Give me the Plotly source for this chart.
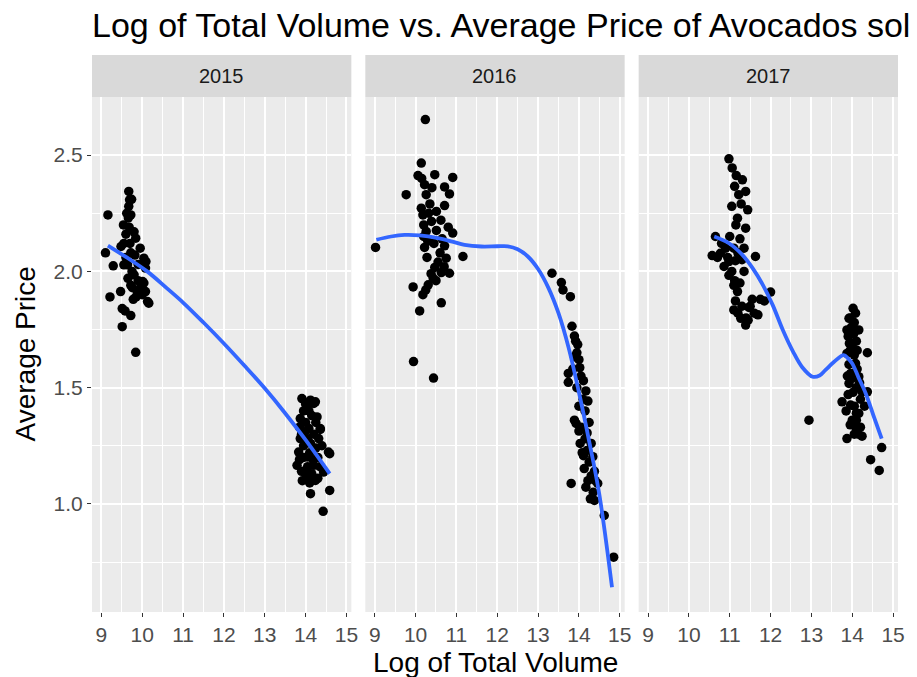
import plotly.graph_objects as go

years = ["2015", "2016", "2017"]

# ---- 2015 ----
vol_2015 = [9.16, 9.67, 9.69, 9.67, 9.72, 9.54, 9.8, 9.84, 9.55, 9.48, 9.1, 9.72, 10.04, 10.09, 9.29,
            9.55, 9.64, 9.8, 10.08, 9.72, 10.01, 10.04, 9.88, 10.08, 9.93, 9.47, 9.21, 9.85, 10.16, 10.13,
            9.51, 9.72, 9.51, 9.84, 9.6, 9.62, 9.75, 9.9, 9.95, 9.7, 9.78, 9.65, 9.6, 9.9, 10.0, 9.58,
            9.68, 9.74, 9.66, 9.98, 9.82, 9.76,
            13.91, 14.12, 14.24, 14.2, 14.04, 14.28, 13.87, 14.36, 14.36, 14.08, 13.87, 14.32, 14.12, 14.59,
            14.56, 13.83, 14.04, 13.79, 14.2, 14.44, 14.0, 14.24, 14.12, 14.59, 14.43, 13.95, 14.0, 14.15,
            13.9, 13.95, 14.1, 14.25, 14.3, 13.85, 14.05, 14.15, 14.35, 13.9, 14.3, 14.1, 13.95, 14.2,
            14.05, 13.85, 14.25, 14.0, 14.1, 14.18, 13.92, 14.4, 14.08, 13.98]
price_2015 = [2.243, 2.344, 2.308, 2.28, 2.243, 2.2, 2.17, 2.143, 2.12, 2.107, 2.08, 2.08, 2.057, 2.042, 2.024,
              2.028, 2.028, 1.985, 2.014, 1.94, 1.956, 1.95, 1.913, 1.913, 1.92, 1.913, 1.89, 1.89, 1.863, 1.87,
              1.84, 1.81, 1.762, 1.652, 2.16, 2.25, 2.0, 1.96, 2.1, 2.12, 1.88, 1.97, 2.06, 2.03, 1.9, 1.83,
              2.19, 2.31, 2.23, 1.94, 2.07, 1.93,
              1.453, 1.446, 1.439, 1.432, 1.41, 1.374, 1.367, 1.324, 1.32, 1.324, 1.281, 1.281, 1.26, 1.216,
              1.223, 1.223, 1.202, 1.166, 1.166, 1.137, 1.13, 1.101, 1.044, 1.058, 0.968, 1.40, 1.35, 1.38,
              1.30, 1.25, 1.22, 1.24, 1.20, 1.19, 1.16, 1.13, 1.16, 1.14, 1.11, 1.09, 1.20, 1.30,
              1.28, 1.33, 1.35, 1.43, 1.11, 1.19, 1.10, 1.25, 1.40, 1.31]
smooth_x_2015 = [9.16, 9.6, 10.12, 10.6, 11.0, 11.5, 12.0, 12.5, 13.0, 13.5, 14.0, 14.59]
smooth_y_2015 = [2.111, 2.062, 2.0, 1.928, 1.866, 1.78, 1.69, 1.595, 1.497, 1.39, 1.275, 1.13]

# ---- 2016 ----
vol_2016 = [9.02, 10.24, 10.14, 10.06, 10.47, 10.91, 9.77, 10.22, 10.71, 10.83, 10.26, 10.14, 10.71, 10.51,
            10.18, 10.39, 10.51, 10.91, 10.26, 10.22, 10.71, 11.16, 10.75, 10.47, 10.83, 10.63, 10.43, 9.94,
            10.31, 10.18, 10.63, 10.1, 9.95, 10.44, 10.3, 10.35, 10.2, 10.6, 10.55, 10.4, 10.28, 10.65,
            10.45, 10.8, 10.62, 10.38, 10.25, 10.5, 10.32, 10.2, 10.7, 10.15,
            13.34, 13.57, 13.61, 13.79, 13.83, 13.89, 13.97, 13.89, 14.02, 13.74, 13.74, 14.11, 14.17, 14.22,
            13.89, 13.93, 14.0, 14.2, 14.03, 14.3, 14.11, 14.34, 14.13, 14.38, 13.81, 14.17, 14.46, 14.28,
            14.38, 14.62, 14.85, 13.95, 14.05, 13.85, 14.1, 14.0, 14.25, 14.15, 14.2, 14.25, 14.3, 14.35,
            14.05, 13.95, 14.15, 14.0, 14.08, 13.92, 14.4, 14.22]
price_2016 = [2.103, 2.653, 2.466, 2.412, 2.416, 2.404, 2.33, 2.373, 2.363, 2.333, 2.33, 2.272, 2.283, 2.258,
              2.243, 2.215, 2.176, 2.165, 2.172, 2.103, 2.11, 2.064, 2.057, 2.017, 1.992, 1.995, 1.971, 1.933,
              1.942, 1.9, 1.865, 1.83, 1.612, 1.541, 2.13, 2.29, 2.2, 2.08, 2.04, 2.36, 2.06, 2.14,
              2.12, 2.19, 2.22, 1.99, 1.92, 1.96, 2.25, 2.15, 2.02, 2.4,
              1.992, 1.952, 1.92, 1.891, 1.764, 1.722, 1.685, 1.633, 1.586, 1.561, 1.523, 1.53, 1.486, 1.442,
              1.36, 1.346, 1.313, 1.305, 1.26, 1.26, 1.207, 1.203, 1.152, 1.14, 1.088, 1.072, 1.088, 1.022,
              1.015, 0.95, 0.771, 1.65, 1.55, 1.58, 1.45, 1.42, 1.35, 1.28, 1.23, 1.18, 1.12, 1.05,
              1.33, 1.50, 1.40, 1.62, 1.22, 1.70, 1.10, 1.10]
smooth_x_2016 = [9.04, 9.4, 9.73, 10.1, 10.55, 10.9, 11.2, 11.61, 12.0, 12.26, 12.5, 12.75, 13.0, 13.25,
                 13.5, 13.75, 14.0, 14.25, 14.5, 14.81]
smooth_y_2016 = [2.136, 2.15, 2.157, 2.155, 2.143, 2.128, 2.114, 2.107, 2.108, 2.108, 2.095, 2.064, 2.01, 1.93,
                 1.82, 1.67, 1.48, 1.27, 1.04, 0.641]

# ---- 2017 ----
vol_2017 = [10.98, 11.06, 11.16, 11.31, 11.12, 11.39, 11.44, 11.19, 11.39, 11.25, 10.65, 10.57, 10.77, 10.98,
            11.14, 11.63, 10.86, 10.98, 11.19, 12.0, 11.14, 11.85, 11.1, 11.47, 11.69, 11.27, 11.39, 11.22,
            11.28, 11.1, 10.9, 11.2, 11.0, 11.35, 11.25, 11.5, 11.6, 11.2, 11.3, 11.55, 11.05, 10.7, 10.8,
            11.1, 11.75, 11.4, 11.3, 11.15, 11.05, 11.12, 10.95, 11.35, 11.45,
            12.94, 14.02, 14.08, 13.92, 14.16, 13.87, 14.0, 14.37, 13.87, 14.08, 13.96, 14.16, 13.92, 14.24,
            14.37, 13.75, 13.96, 14.16, 14.0, 14.08, 14.24, 13.87, 14.72, 14.45, 14.66, 13.95, 14.05, 13.9,
            14.1, 13.95, 14.05, 13.92, 14.12, 14.0, 14.1, 13.9, 14.2, 14.05, 14.1, 13.85, 14.2, 13.95, 14.05,
            14.15, 13.98, 14.12, 14.02, 13.88, 14.18, 13.93, 14.03, 14.1, 14.3]
price_2017 = [2.484, 2.445, 2.412, 2.394, 2.366, 2.344, 2.265, 2.229, 2.186, 2.14, 2.15, 2.068, 2.078, 2.042,
              2.046, 2.064, 2.021, 1.983, 1.913, 1.911, 1.873, 1.873, 1.834, 1.845, 1.813, 1.798, 1.769, 2.33,
              2.29, 2.1, 2.1, 2.08, 2.15, 2.0, 1.95, 1.85, 1.82, 1.82, 1.85, 1.88, 2.0, 2.06, 2.12,
              1.94, 1.88, 1.80, 2.05, 2.2, 2.28, 1.96, 2.06, 2.1, 1.79,
              1.36, 1.841, 1.82, 1.798, 1.748, 1.748, 1.69, 1.65, 1.647, 1.604, 1.561, 1.547, 1.518, 1.482,
              1.482, 1.439, 1.425, 1.389, 1.36, 1.331, 1.291, 1.281, 1.242, 1.19, 1.144, 1.80, 1.78, 1.72,
              1.70, 1.66, 1.64, 1.60, 1.58, 1.54, 1.50, 1.47, 1.45, 1.42, 1.36, 1.40, 1.33, 1.34, 1.30,
              1.30, 1.76, 1.66, 1.48, 1.55, 1.52, 1.69, 1.73, 1.39, 1.42]
smooth_x_2017 = [10.62, 10.98, 11.31, 11.56, 11.81, 12.05, 12.30, 12.55, 12.77, 13.03, 13.2, 13.34, 13.55,
                 13.79, 13.9, 14.0, 14.15, 14.33, 14.52, 14.72]
smooth_y_2017 = [2.15, 2.121, 2.071, 2.014, 1.942, 1.856, 1.748, 1.655, 1.589, 1.547, 1.552, 1.575, 1.61,
                 1.64, 1.625, 1.604, 1.545, 1.475, 1.38, 1.281]

x_ticks = [9, 10, 11, 12, 13, 14, 15]
y_ticks = [1.0, 1.5, 2.0, 2.5]

panels = [
    (vol_2015, price_2015, smooth_x_2015, smooth_y_2015),
    (vol_2016, price_2016, smooth_x_2016, smooth_y_2016),
    (vol_2017, price_2017, smooth_x_2017, smooth_y_2017),
]

FONT = "Liberation Sans, Arial, Helvetica, sans-serif"
OFF = 8  # default page body margin
W, H = 917 - OFF, 677 - OFF
L, R, T, B = 92 - OFF, 19, 97 - OFF, 65
plot_w = W - L - R
plot_h = H - T - B
gap = 14
pw = (plot_w - 2 * gap) / 3
domains = [[(i * (pw + gap)) / plot_w, (i * (pw + gap) + pw) / plot_w] for i in range(3)]

fig = go.Figure()
for i, (vx, vy, sx, sy) in enumerate(panels):
    xa = "x" if i == 0 else f"x{i+1}"
    ya = "y" if i == 0 else f"y{i+1}"
    fig.add_trace(go.Scatter(x=vx, y=vy, mode="markers", xaxis=xa, yaxis=ya,
                             marker=dict(color="black", size=9.5, line=dict(width=0)),
                             showlegend=False, hoverinfo="x+y"))
    fig.add_trace(go.Scatter(x=sx, y=sy, mode="lines", xaxis=xa, yaxis=ya,
                             line=dict(color="#3366FF", width=3.8, shape="spline"),
                             showlegend=False, hoverinfo="skip"))

layout = dict(
    width=W, height=H,
    margin=dict(l=L, r=R, t=T, b=B, pad=0),
    paper_bgcolor="white", plot_bgcolor="#EBEBEB",
    font=dict(family=FONT, color="#000000"),
    title=dict(text="Log of Total Volume vs. Average Price of Avocados sold by Year",
               x=(92 - OFF) / W, xref="container", xanchor="left",
               y=1 - (25 - OFF) / H, yref="container", yanchor="middle",
               font=dict(size=34, color="#000000", family=FONT)),
    shapes=[], annotations=[],
)

for i in range(3):
    sfx = "" if i == 0 else str(i + 1)
    layout["xaxis" + sfx] = dict(
        domain=domains[i], anchor="y" + sfx, range=[8.77, 15.12],
        tickmode="array", tickvals=x_ticks, ticktext=[str(t) for t in x_ticks],
        ticks="outside", ticklen=4, tickwidth=1.2, tickcolor="#333333",
        tickfont=dict(size=21, color="#4D4D4D", family=FONT),
        showgrid=True, gridcolor="white", gridwidth=1.8,
        minor=dict(tickmode="array", tickvals=[8.5, 9.5, 10.5, 11.5, 12.5, 13.5, 14.5, 15.5],
                   showgrid=True, gridcolor="white", gridwidth=0.9, ticks=""),
        zeroline=False, showline=False, fixedrange=True,
    )
    layout["yaxis" + sfx] = dict(
        domain=[0, 1], anchor="x" + sfx, range=[0.535, 2.75],
        tickmode="array", tickvals=y_ticks, ticktext=[f"{v:.1f}" for v in y_ticks],
        showticklabels=(i == 0), ticks="outside" if i == 0 else "",
        ticklen=4, tickwidth=1.2, tickcolor="#333333",
        tickfont=dict(size=21, color="#4D4D4D", family=FONT),
        showgrid=True, gridcolor="white", gridwidth=1.8,
        minor=dict(tickmode="array", tickvals=[0.75, 1.25, 1.75, 2.25],
                   showgrid=True, gridcolor="white", gridwidth=0.9, ticks=""),
        zeroline=False, showline=False, fixedrange=True,
    )
    strip_top = 1 + 42 / plot_h
    layout["shapes"].append(dict(type="rect", xref=f"x{sfx} domain", yref="paper",
                                 x0=0, x1=1, y0=1, y1=strip_top,
                                 fillcolor="#D9D9D9", line=dict(width=0), layer="below"))
    layout["annotations"].append(dict(text=years[i], xref=f"x{sfx} domain", yref="paper",
                                      x=0.5, y=1 + 21 / plot_h, showarrow=False,
                                      xanchor="center", yanchor="middle",
                                      font=dict(size=20, color="#1A1A1A", family=FONT)))

layout["annotations"].append(dict(text="Log of Total Volume", xref="paper", yref="paper",
                                  x=0.5, y=-(662 - 612) / plot_h, showarrow=False,
                                  xanchor="center", yanchor="middle",
                                  font=dict(size=28, color="#000000", family=FONT)))
layout["annotations"].append(dict(text="Average Price", xref="paper", yref="paper",
                                  x=-(92 - 25) / plot_w, y=0.5, showarrow=False, textangle=-90,
                                  xanchor="center", yanchor="middle",
                                  font=dict(size=28, color="#000000", family=FONT)))

fig.update_layout(**layout)
fig.write_html("out.html")
